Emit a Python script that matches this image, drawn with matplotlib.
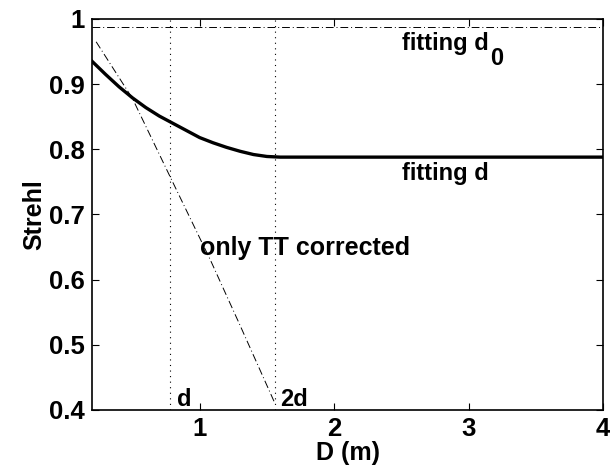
import numpy as np
import matplotlib.pyplot as plt

plt.rcParams['font.family'] = ['Liberation Sans', 'DejaVu Sans']

# fitting d curve
D_fit = [0.2, 0.3, 0.4, 0.5, 0.6, 0.7, 0.8, 0.9, 1.0, 1.1, 1.2, 1.3, 1.4, 1.5, 1.6, 2.0, 3.0, 4.0]
S_fit = [0.935, 0.915, 0.896, 0.879, 0.864, 0.851, 0.840, 0.829, 0.818, 0.810, 0.803, 0.797, 0.792, 0.789, 0.788, 0.788, 0.788, 0.788]

# only tip-tilt corrected
D_tt = [0.23, 0.5, 0.78, 1.08, 1.3, 1.56]
S_tt = [0.965, 0.878, 0.758, 0.630, 0.530, 0.41]

S_d0 = 0.988
d = 0.78

fig = plt.figure(figsize=(6.1, 4.75), dpi=100)
ax = fig.add_axes([0.151, 0.137, 0.8375, 0.823])

dashdot = (0, (8, 3, 1, 3))
dotted = (0, (1, 4))
ax.plot(D_fit, S_fit, color='black', lw=2.4)
ax.plot(D_tt, S_tt, color='black', lw=0.7, ls=dashdot)
ax.axhline(S_d0, color='black', lw=0.7, ls=dashdot)
ax.axvline(d, color='black', lw=0.8, ls=dotted)
ax.axvline(2 * d, color='black', lw=0.8, ls=dotted)

txt = dict(fontsize=17, fontweight='bold', va='baseline')
ax.text(2.505, 0.952, 'fitting d', **txt)
ax.text(3.16, 0.930, '0', **txt)
ax.text(2.505, 0.753, 'fitting d', **txt)
ax.text(1.003, 0.638, 'only TT corrected', fontsize=18, fontweight='bold', va='baseline')
ax.text(0.83, 0.406, 'd', **txt)
ax.text(1.598, 0.406, '2d', **txt)

ax.set_xlim(0.2, 4)
ax.set_ylim(0.4, 1)
ax.set_xticks([1, 2, 3, 4])
ax.set_yticks([0.4, 0.5, 0.6, 0.7, 0.8, 0.9, 1])
ax.set_yticklabels(['0.4', '0.5', '0.6', '0.7', '0.8', '0.9', '1'])
ax.tick_params(direction='in', top=True, right=True, length=5, width=0.8,
               labelsize=18.5, pad=5)
for lab in ax.get_xticklabels() + ax.get_yticklabels():
    lab.set_fontweight('bold')
for sp in ax.spines.values():
    sp.set_linewidth(1.2)

ax.set_xlabel('D (m)', fontsize=18, fontweight='bold', labelpad=0)
ax.set_ylabel('Strehl', fontsize=18, fontweight='bold', labelpad=2)

fig.savefig('out.png', dpi=100)
